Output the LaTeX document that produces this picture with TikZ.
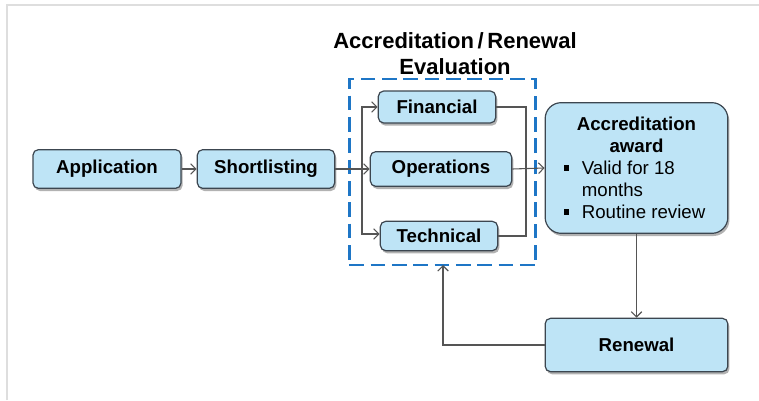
\documentclass[tikz,border=0pt]{standalone}
\usepackage{fontspec}
\setmainfont{Liberation Sans}
\usetikzlibrary{arrows.meta,shadows}

\definecolor{boxfill}{RGB}{190,228,246}
\definecolor{boxline}{RGB}{60,70,80}
\definecolor{arrowgray}{RGB}{85,85,85}
\definecolor{evalblue}{RGB}{30,118,198}
\definecolor{framegray}{RGB}{222,222,222}

\newcommand{\sqbullet}{\makebox[13.5pt][l]{\rule[3pt]{4pt}{4pt}}}

\tikzset{
    stage/.style={draw=boxline, fill=boxfill, line width=0.9pt, rounded corners=4pt,
        inner sep=0pt, font=\bfseries\fontsize{14}{16}\selectfont,
        drop shadow={shadow xshift=1.2pt, shadow yshift=-2pt, fill=black, opacity=0.3}},
    evalframe/.style={draw=evalblue, line width=2.2pt, dash pattern=on 11pt off 5pt, inner sep=0pt},
    flow/.style={draw=arrowgray, line width=0.8pt, -{Straight Barb[length=4pt,width=8pt]}},
    link/.style={draw=arrowgray, line width=0.8pt},
}

\begin{document}
\begin{tikzpicture}[x=0.75pt,y=0.75pt,yscale=-1,xscale=1]
        \useasboundingbox (0,0) rectangle (759,400);
        %frame
        \draw[framegray, line width=1pt] (7,400) -- (7,5) -- (759,5);

        %title
        \node[align=center, font=\bfseries\fontsize{16.5}{19.5}\selectfont] (title) at (455,54) {Accreditation\,/\,Renewal\\Evaluation};

        %evaluation frame
        \node[evalframe, minimum width=140pt, minimum height=139.5pt] (eval) at (442.5,172) {};

        %boxes
        \node[stage, minimum width=111pt, minimum height=29pt] (app) at (107,169) {Application};
        \node[stage, minimum width=103pt, minimum height=29pt] (short) at (266,169) {Shortlisting};
        \node[stage, minimum width=88pt, minimum height=24pt] (fin) at (437,107) {Financial};
        \node[stage, minimum width=106pt, minimum height=26pt] (ops) at (441,169) {Operations};
        \node[stage, minimum width=88pt, minimum height=22pt] (tech) at (439,236) {Technical};
        \node[stage, rounded corners=12pt, minimum width=137pt, minimum height=98pt] (award) at (636.5,168) {%
            \begin{minipage}{109pt}
            \fontsize{14}{16.5}\selectfont
            \centering\bfseries Accreditation\\award\par
            \raggedright\mdseries
            \sqbullet Valid for 18\\
            \hspace*{13.5pt}months\\
            \sqbullet Routine review\par
            \end{minipage}};
        \node[stage, minimum width=137pt, minimum height=40pt] (ren) at (636.5,345) {Renewal};

        %branch points
        \coordinate (split) at (362,169);
        \coordinate (join) at (526,169);
        \coordinate (back) at (443,265);

        %connectors
        \draw[flow] (app) -- (short);
        \draw[flow] (short.east) -- (ops.west);
        \draw[flow] (split) |- (fin.west);
        \draw[flow] (split) |- ([yshift=-1.5pt]tech.west);
        \draw[link] (fin.east) -| (join);
        \draw[link] (tech.east) -| (join);
        \draw[flow] (ops.east) -- (award.west);
        \draw[flow] (award.south) -- (ren.north);
        \draw[flow] (ren.west) -| (back);
\end{tikzpicture}
\end{document}
